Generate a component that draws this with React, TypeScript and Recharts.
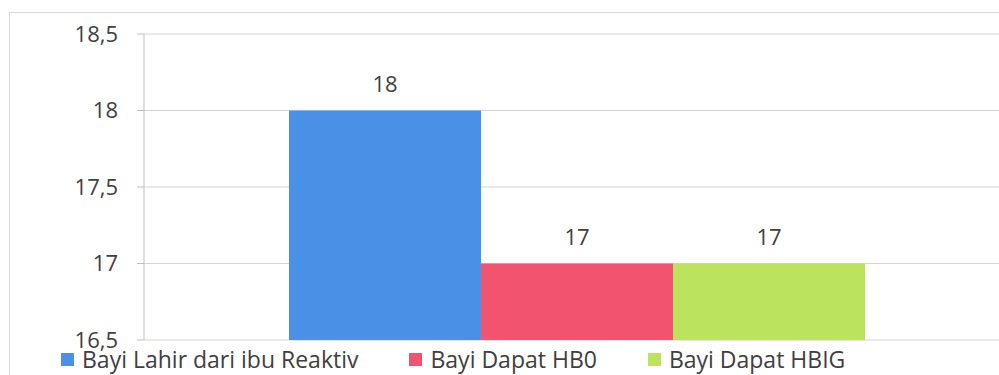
import React from 'react';
import { BarChart, Bar, XAxis, YAxis, CartesianGrid, Legend, LabelList } from 'recharts';

// one category, three series drawn side by side
const categories = [''];
const seriesNames = ['Bayi Lahir dari ibu Reaktiv', 'Bayi Dapat HB0', 'Bayi Dapat HBIG'];
const lahirReaktiv = [18];
const dapatHB0 = [17];
const dapatHBIG = [17];
const yTicks = [16.5, 17, 17.5, 18, 18.5];

const data = categories.map((name, i) => ({
  name,
  lahir: lahirReaktiv[i],
  hb0: dapatHB0[i],
  hbig: dapatHBIG[i],
}));

const FONT = '"Open Sans", sans-serif';
const TEXT = '#404040';

const fmt = (v: number) => String(v).replace('.', ',');

function renderLegend(props: any) {
  const payload = [...(props.payload || [])].sort(
    (a: any, b: any) => seriesNames.indexOf(a.value) - seriesNames.indexOf(b.value)
  );
  return (
    <div style={{ display: 'flex', gap: 51, fontFamily: FONT, fontSize: 23, color: TEXT, lineHeight: '24px' }}>
      {payload.map((entry: any) => (
        <div key={entry.value} style={{ display: 'flex', alignItems: 'center' }}>
          <span style={{ width: 13, height: 13, background: entry.color, marginRight: 8, display: 'inline-block' }} />
          <span>{entry.value}</span>
        </div>
      ))}
    </div>
  );
}

export default function App() {
  return (
    <div style={{ position: 'absolute', left: 0, top: 0, width: 999, height: 375, overflow: 'hidden', background: '#fff' }}>
      <div style={{ position: 'absolute', left: 9, top: 12, width: 1040, height: 400, border: '1px solid #d9d9d9' }} />
      <div style={{ position: 'absolute', left: 0, top: 0 }}>
        <BarChart
          width={1020}
          height={375}
          data={data}
          margin={{ top: 34, right: 10, bottom: 35, left: 0 }}
          barGap={0}
          barSize={192}
        >
          <CartesianGrid vertical={false} stroke="#d4d4d4" />
          <XAxis dataKey="name" hide />
          <YAxis
            width={144}
            domain={[16.5, 18.5]}
            ticks={yTicks}
            tickFormatter={fmt}
            axisLine={{ stroke: '#bfbfbf' }}
            tickLine={{ stroke: '#bfbfbf' }}
            tickSize={7}
            tickMargin={19}
            tick={{ fontFamily: FONT, fontSize: 22, fill: TEXT }}
            interval={0}
          />
          <Legend
            layout="horizontal"
            verticalAlign="middle"
            align="center"
            content={renderLegend}
            wrapperStyle={{ top: 347, left: 61, width: 'auto' }}
          />
          <Bar dataKey="lahir" name={seriesNames[0]} fill="#4a90e6" isAnimationActive={false}>
            <LabelList dataKey="lahir" position="top" offset={19} formatter={fmt} style={{ fontFamily: FONT, fontSize: 22, fill: TEXT }} />
          </Bar>
          <Bar dataKey="hb0" name={seriesNames[1]} fill="#f2536f" isAnimationActive={false}>
            <LabelList dataKey="hb0" position="top" offset={19} formatter={fmt} style={{ fontFamily: FONT, fontSize: 22, fill: TEXT }} />
          </Bar>
          <Bar dataKey="hbig" name={seriesNames[2]} fill="#bce35e" isAnimationActive={false}>
            <LabelList dataKey="hbig" position="top" offset={19} formatter={fmt} style={{ fontFamily: FONT, fontSize: 22, fill: TEXT }} />
          </Bar>
        </BarChart>
      </div>
    </div>
  );
}
